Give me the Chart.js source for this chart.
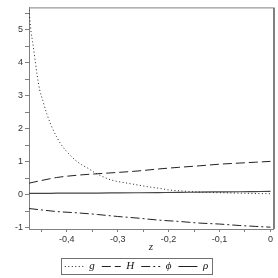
<!DOCTYPE html>
<html>
<head>
<meta charset="utf-8">
<script src="https://cdn.jsdelivr.net/npm/chart.js@4/dist/chart.umd.min.js"></script>
<style>
html,body{margin:0;padding:0;background:#fff;}
#wrap{width:278px;height:278px;}
</style>
</head>
<body>
<div id="wrap"><canvas id="c" width="278" height="278"></canvas></div>
<script>
// g(z) curve
const zG = [-0.474,-0.470,-0.467,-0.462,-0.458,-0.453,-0.447,-0.439,-0.429,-0.420,-0.410,-0.397,-0.384,-0.371,-0.358,-0.344,-0.332,-0.319,-0.306,-0.285,-0.266,-0.240,-0.217,-0.197,-0.170,-0.150,-0.120,-0.100,-0.070,-0.040,0];
const gVals = [5.6,4.94,4.64,4.08,3.63,3.18,2.86,2.45,2.05,1.76,1.5,1.26,1.06,0.91,0.8,0.66,0.57,0.48,0.42,0.36,0.31,0.24,0.19,0.14,0.11,0.09,0.07,0.06,0.05,0.04,0.03];
// H, phi, rho curves
const zs = [-0.474,-0.45,-0.42,-0.38,-0.34,-0.3,-0.26,-0.22,-0.18,-0.14,-0.1,-0.06,-0.03,0];
const HVals = [0.35,0.43,0.52,0.59,0.635,0.675,0.72,0.78,0.83,0.875,0.925,0.96,0.985,1.01];
const phiVals = [-0.42,-0.46,-0.51,-0.55,-0.6,-0.66,-0.71,-0.77,-0.81,-0.86,-0.89,-0.935,-0.96,-0.985];
const rhoVals = [0.04,0.04,0.045,0.05,0.05,0.055,0.06,0.065,0.07,0.08,0.085,0.09,0.095,0.1];
const seriesNames = ['g','H','ϕ','ρ'];
const xTicks = [-0.45,-0.4,-0.35,-0.3,-0.25,-0.2,-0.15,-0.1,-0.05,0];
const yTicks = [-1,-0.5,0,0.5,1,1.5,2,2.5,3,3.5,4,4.5,5,5.5];

const pts = (xs, ys) => xs.map((x,i)=>({x:x, y:ys[i]}));

const frame = {
  id:'frame',
  afterDraw(chart){
    const {ctx, chartArea:a} = chart;
    ctx.save();
    ctx.strokeStyle = '#808080';
    ctx.lineWidth = 1;
    ctx.beginPath();
    ctx.moveTo(a.left, a.top+0.5); ctx.lineTo(a.right, a.top+0.5);
    ctx.stroke();
    ctx.lineWidth = 2;
    ctx.beginPath();
    ctx.moveTo(a.right+1, a.top); ctx.lineTo(a.right+1, a.bottom);
    ctx.stroke();
    // legend box
    const lg = chart.legend;
    if (lg && lg.legendHitBoxes && lg.legendHitBoxes.length){
      let l=1e9,r=-1e9,t=1e9,b=-1e9;
      lg.legendHitBoxes.forEach(h=>{l=Math.min(l,h.left);r=Math.max(r,h.left+h.width);t=Math.min(t,h.top);b=Math.max(b,h.top+h.height);});
      ctx.lineWidth = 1;
      ctx.strokeStyle = '#707070';
      ctx.strokeRect(Math.round(l-4)+0.5, Math.round(t-3)+0.5, Math.round(r-l+8), Math.round(b-t+5));
    }
    ctx.restore();
  }
};

const tickFont = {family:'Liberation Sans', size:9};
const chart = new Chart(document.getElementById('c'), {
  type:'scatter',
  data:{
    datasets:[
      {label:seriesNames[0], data:pts(zG,gVals), showLine:true, borderColor:'#222', borderWidth:1, borderDash:[1,2.5], pointRadius:0, cubicInterpolationMode:'monotone'},
      {label:seriesNames[1], data:pts(zs,HVals), showLine:true, borderColor:'#222', borderWidth:1, borderDash:[9,4], pointRadius:0, cubicInterpolationMode:'monotone'},
      {label:seriesNames[2], data:pts(zs,phiVals), showLine:true, borderColor:'#222', borderWidth:1, borderDash:[9,3,2,3], pointRadius:0, cubicInterpolationMode:'monotone'},
      {label:seriesNames[3], data:pts(zs,rhoVals), showLine:true, borderColor:'#444', borderWidth:1.2, pointRadius:0, cubicInterpolationMode:'monotone'}
    ]
  },
  options:{
    responsive:false,
    animation:false,
    events:[],
    layout:{padding:{left:0,right:5,top:4,bottom:-4}},
    plugins:{
      tooltip:{enabled:false},
      legend:{
        position:'bottom',
        labels:{
          usePointStyle:true, pointStyle:'line', pointStyleWidth:19,
          padding:7, color:'#111',
          font:{family:'Liberation Serif', style:'italic', size:11},
          generateLabels(ch){
            const items = Chart.defaults.plugins.legend.labels.generateLabels(ch);
            items.forEach(it=>{ const ds = ch.data.datasets[it.datasetIndex]; it.lineDash = ds.borderDash || []; it.lineWidth = 1; it.strokeStyle = '#222'; });
            return items;
          }
        }
      }
    },
    scales:{
      x:{
        type:'linear', min:-0.474, max:0.005,
        afterBuildTicks(s){ s.ticks = xTicks.map(v=>({value:v})); },
        afterFit(s){ const lh = s.chart.legend ? s.chart.legend.height : 0; s.height = 278 - (-4) - lh - 229; },
        ticks:{
          autoSkip:false, maxRotation:0, padding:2, color:'#333', font:tickFont,
          callback(v){ const r = Math.round(v*10)/10; if (Math.abs(v-r)>1e-6) return ''; if (r===0) return '0'; return r.toFixed(1).replace('.',','); }
        },
        grid:{drawOnChartArea:false, drawTicks:true, tickLength:3, color:'#808080'},
        border:{color:'#808080', width:1},
        title:{display:true, text:'z', color:'#222', font:{family:'Liberation Serif', style:'italic', size:11}, padding:{top:0,bottom:0}}
      },
      y:{
        type:'linear', min:-1.04, max:5.68,
        afterBuildTicks(s){ s.ticks = yTicks.map(v=>({value:v})); },
        afterFit(s){ s.width = 29; },
        ticks:{
          autoSkip:false, padding:2, color:'#333', font:tickFont,
          callback(v){ return Number.isInteger(v) ? String(v) : ''; }
        },
        grid:{drawOnChartArea:false, drawTicks:true, tickLength:4, color:'#808080'},
        border:{color:'#808080', width:1}
      }
    }
  },
  plugins:[frame]
});
</script>
</body>
</html>
